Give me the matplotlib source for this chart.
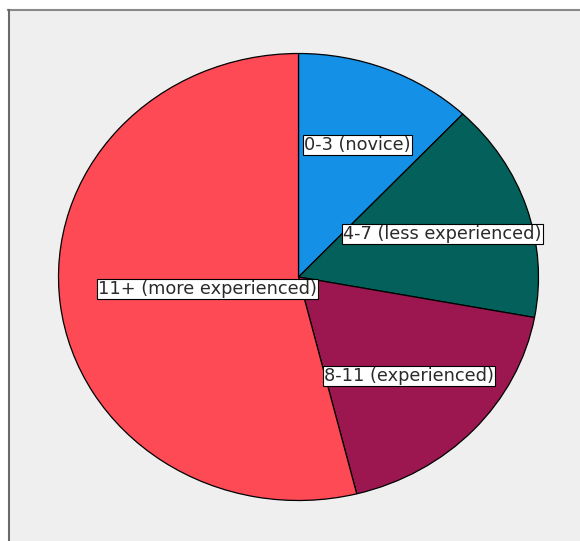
import matplotlib.pyplot as plt
from matplotlib.patches import Rectangle
from matplotlib.lines import Line2D

# Years of experience groups (percent of respondents)
labels = ['0-3 (novice)', '4-7 (less experienced)', '8-11 (experienced)', '11+ (more experienced)']
shares = [12.0, 15.9, 18.2, 53.9]
colors = ['#1490e6', '#03605a', '#9c1750', '#fd4a55']

W, H = 580, 541
fig = plt.figure(figsize=(W / 100, H / 100), dpi=100)
fig.patch.set_facecolor('white')

# grey chart area with a thin frame on top and left
fig.patches.append(Rectangle((9 / W, 0), 1, (H - 10) / H, transform=fig.transFigure,
                             facecolor='#efefef', edgecolor='none', zorder=-2))
fig.lines.append(Line2D([8 / W, 1], [1 - 10 / H, 1 - 10 / H], transform=fig.transFigure,
                        color='#8a8a8a', lw=1.5, zorder=-1))
fig.lines.append(Line2D([8.5 / W, 8.5 / W], [0, 1 - 10 / H], transform=fig.transFigure,
                        color='#6a6a6a', lw=1.5, zorder=-1))

ax = fig.add_axes([0, 0, 1, 1])
ax.set_facecolor('none')
ax.pie(shares, colors=colors, startangle=90, counterclock=False,
       wedgeprops=dict(edgecolor='black', linewidth=0.9))

# pie is drawn slightly elliptical: centre (298.5, 277) px, radii 240 x 223.5 px
cx, cy, rx, ry = 298.5, 277, 240, 223.5
ax.set_aspect('auto')
ax.set_xlim(-cx / rx, (W - cx) / rx)
ax.set_ylim(-(H - cy) / ry, cy / ry)
ax.axis('off')

# label anchors (left edge, vertical centre) in pixels
label_px = {
    '0-3 (novice)': (304, 145),
    '4-7 (less experienced)': (343, 234),
    '8-11 (experienced)': (324, 376),
    '11+ (more experienced)': (98, 289),
}
for lab in labels:
    px, py = label_px[lab]
    ax.text((px - cx) / rx, (cy - py) / ry, lab, ha='left', va='center',
            fontsize=12.8, color='#2a2a2a', family='DejaVu Sans',
            bbox=dict(boxstyle='square,pad=0.06', facecolor='white',
                      edgecolor='black', linewidth=0.8))

fig.savefig('out.png', dpi=100)
